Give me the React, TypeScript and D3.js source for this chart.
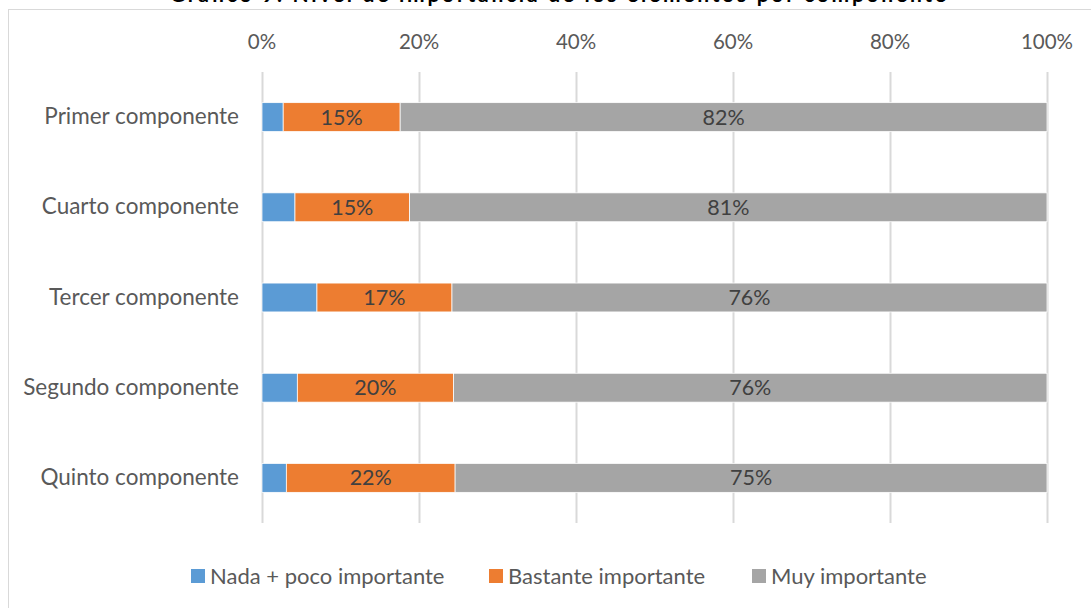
import { useRef, useEffect } from 'react';
import * as d3 from 'd3';

const TITLE = 'Gráfico 9. Nivel de importancia de los elementos por componente';
const CATEGORIES = ['Primer componente', 'Cuarto componente', 'Tercer componente', 'Segundo componente', 'Quinto componente'];
const SERIES = ['Nada + poco importante', 'Bastante importante', 'Muy importante'];
const NADA = [2.7, 4.2, 7.0, 4.5, 3.1];
const BASTANTE = [14.9, 14.6, 17.2, 19.9, 21.5];
const MUY = [82.4, 81.2, 75.8, 75.6, 75.4];
const TICKS = [0, 20, 40, 60, 80, 100];

const COLORS = ['#5B9BD5', '#ED7D31', '#A5A5A5'];
const FONT = 'Lato, "Open Sans", sans-serif';
const W = 1091;
const H = 608;

export default function App() {
  const svgRef = useRef<SVGSVGElement>(null);

  useEffect(() => {
    const svg = d3.select(svgRef.current);
    svg.selectAll('*').remove();

    const rows = CATEGORIES.map((c, i) => ({ cat: c, s0: NADA[i], s1: BASTANTE[i], s2: MUY[i] }));
    const stack = d3.stack<any>().keys(['s0', 's1', 's2']);
    const layers = stack(rows);

    const x = d3.scaleLinear().domain([0, 100]).range([262, 1047]);
    const y = d3.scaleBand().domain(CATEGORIES).range([72, 523]).paddingInner(0.68).paddingOuter(0.34);

    // chart frame
    svg.append('rect')
      .attr('x', 8.5).attr('y', 9.5).attr('width', 1200).attr('height', 700)
      .attr('fill', 'white').attr('stroke', '#D9D9D9').attr('stroke-width', 1);

    // title (mostly cut off at the top, like the source)
    svg.append('text')
      .attr('x', 558).attr('y', 1.5)
      .attr('text-anchor', 'middle')
      .attr('font-family', FONT).attr('font-weight', 700).attr('font-size', 21)
      .attr('textLength', 776).attr('lengthAdjust', 'spacing')
      .attr('fill', '#000').text(TITLE);

    // gridlines
    svg.append('g').selectAll('line').data(TICKS).join('line')
      .attr('x1', (d) => Math.round(x(d)) + 0.5).attr('x2', (d) => Math.round(x(d)) + 0.5)
      .attr('y1', 72).attr('y2', 523)
      .attr('stroke', '#D9D9D9').attr('stroke-width', 2);

    // tick labels on top
    svg.append('g').selectAll('text').data(TICKS).join('text')
      .attr('x', (d) => x(d)).attr('y', 49)
      .attr('text-anchor', 'middle')
      .attr('font-family', FONT).attr('font-size', 20.5).attr('fill', '#595959')
      .text((d) => `${d}%`);

    // category labels
    svg.append('g').selectAll('text').data(CATEGORIES).join('text')
      .attr('x', 239).attr('y', (d) => (y(d) as number) + y.bandwidth() / 2 + 7)
      .attr('text-anchor', 'end')
      .attr('font-family', FONT).attr('font-size', 22.5).attr('fill', '#595959')
      .text((d) => d);

    // bars
    const g = svg.append('g');
    layers.forEach((layer, li) => {
      g.append('g').selectAll('rect').data(layer).join('rect')
        .attr('x', (d) => x(d[0]))
        .attr('y', (d) => y(d.data.cat) as number)
        .attr('width', (d) => x(d[1]) - x(d[0]))
        .attr('height', y.bandwidth())
        .attr('fill', COLORS[li])
        .attr('stroke', 'white').attr('stroke-width', 0.75);

      if (li > 0) {
        g.append('g').selectAll('text').data(layer).join('text')
          .attr('x', (d) => (x(d[0]) + x(d[1])) / 2)
          .attr('y', (d) => (y(d.data.cat) as number) + y.bandwidth() / 2 + 7.5)
          .attr('text-anchor', 'middle')
          .attr('font-family', FONT).attr('font-size', 21.5).attr('fill', '#404040')
          .text((d) => `${Math.round(d[1] - d[0])}%`);
      }
    });

    // legend
    const legendX = [191, 489, 752];
    const lg = svg.append('g');
    SERIES.forEach((s, i) => {
      lg.append('rect')
        .attr('x', legendX[i]).attr('y', 569).attr('width', 14).attr('height', 14)
        .attr('fill', COLORS[i]);
      lg.append('text')
        .attr('x', legendX[i] + 19).attr('y', 583.5)
        .attr('font-family', FONT).attr('font-size', 22).attr('fill', '#595959')
        .text(s);
    });
  }, []);

  return (
    <div style={{ position: 'absolute', left: 0, top: 0 }}>
      <svg ref={svgRef} width={W} height={H} style={{ display: 'block' }} />
    </div>
  );
}
